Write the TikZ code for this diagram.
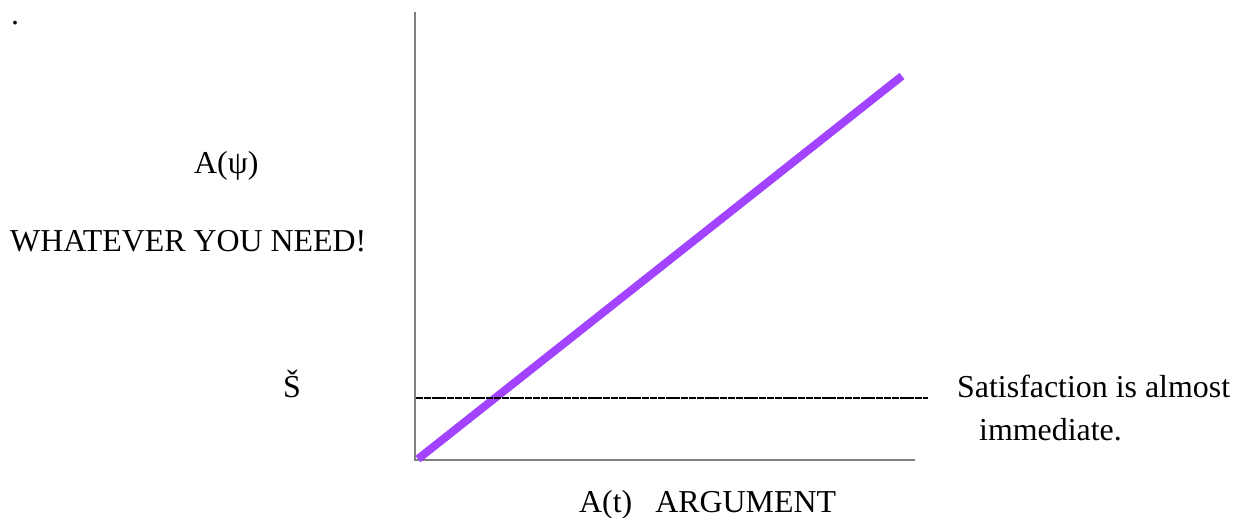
\documentclass[tikz,border=0pt]{standalone}
\usepackage{fontspec}
\setmainfont{Liberation Serif}
\definecolor{violetline}{RGB}{162,68,255}
\definecolor{axisgray}{RGB}{128,128,128}
\begin{document}
\begin{tikzpicture}[x=1pt,y=-1pt,
  lbl/.style={font=\fontsize{31.9}{38}\selectfont, inner sep=0pt, anchor=base west},
  axisline/.style={draw=axisgray, line width=1.5pt},
  dashline/.style={draw=black, line width=1.8pt, dash pattern=on 7pt off 0.8pt},
  trendline/.style={draw=violetline, line width=8pt}]
\useasboundingbox (0,0) rectangle (1235,518);
% axes
\coordinate (ytop) at (415,12);
\coordinate (orig) at (415,460);
\coordinate (xend) at (915,460);
\draw[axisline] (ytop) -- (orig) -- (xend);
% purple line
\coordinate (p0) at (418,459);
\coordinate (p1) at (902,76);
\draw[trendline] (p0) -- (p1);
% dashed level
\coordinate (dl) at (416,398);
\coordinate (dr) at (928,398);
\draw[dashline] (dl) -- (dr);
% texts
\node[lbl] (dot) at (11,25) {.};
\node[lbl] (apsi) at (194,174) {A(ψ)};
\node[lbl] (need) at (10,252) {WHATEVER YOU NEED!};
\node[lbl] (scar) at (283,398) {Š};
\node[lbl] (sat1) at (957,398) {Satisfaction is almost};
\node[lbl] (sat2) at (979,441) {immediate.};
\node[lbl] (arg) at (579,513) {A(t)\hspace{0.72em}ARGUMENT};
\end{tikzpicture}
\end{document}
